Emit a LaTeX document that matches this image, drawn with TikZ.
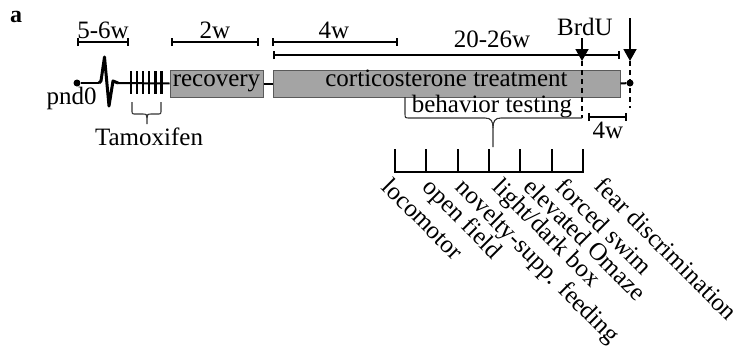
\documentclass[tikz,border=0pt]{standalone}
\usepackage{fontspec}
\setmainfont{Liberation Serif}
\usetikzlibrary{arrows.meta}
\definecolor{phasefill}{HTML}{A4A4A4}
\definecolor{phaseedge}{HTML}{5A5A5A}
\begin{document}
\begin{tikzpicture}[x=1pt,y=-1pt,
  txt/.style={font=\fontsize{25}{30}\selectfont, inner sep=0pt, anchor=base},
  spanbar/.style={line width=1.7pt, {Bar[width=8pt,line width=1.7pt]}-{Bar[width=8pt,line width=1.7pt]}},
  phase/.style={draw=phaseedge, line width=1pt, fill=phasefill, inner sep=0pt,
    minimum height=27pt, text height=11pt, text depth=5.5pt, font=\fontsize{25}{30}\selectfont},
  tline/.style={line width=2pt},
  spike/.style={line width=3pt, line join=round},
  tamtick/.style={line width=2.4pt},
  bracepath/.style={line width=1.1pt, draw=black!80},
  inject/.style={line width=1.8pt, -{Triangle[width=13pt,length=12pt]}},
  dashv/.style={line width=1.8pt, dash pattern=on 5pt off 4pt},
  dot/.style={circle, fill=black, inner sep=0pt, minimum size=7pt},
  combline/.style={line width=2.4pt},
  combtick/.style={line width=2pt},
  testlbl/.style={font=\fontsize{25}{30}\selectfont, rotate=-45, anchor=north west, inner sep=0pt}
]
\useasboundingbox (0,0) rectangle (741,354);

% panel letter
\node[font=\fontsize{24}{28}\selectfont\bfseries, inner sep=0pt, anchor=base west] (panel) at (10,22) {a};

% timeline
\node[dot] (p0) at (77,83) {};
\node[txt] (pnd) at (71.5,104) {pnd0};
\node[phase, minimum width=93pt] (rec) at (216.5,83.5) {recovery};
\node[phase, minimum width=347pt] (cort) at (446.5,83.5) {corticosterone treatment};
\node[dot] (pend) at (630,83) {};

\coordinate (e0) at (99,83);
\coordinate (e1) at (101,81);
\coordinate (e2) at (104.5,57);
\coordinate (e3) at (109,106);
\coordinate (e4) at (113,81);
\coordinate (e5) at (118,83);
\draw[tline] (p0) -- (e0);
\draw[spike] (e0) -- (e1) -- (e2) -- (e3) -- (e4) -- (e5);
\draw[tline] (e5) -- (rec.west);
\draw[tline] (rec.east) -- (cort.west);
\draw[tline] (cort.east) -- (pend);

% tamoxifen injections
\foreach \i/\x in {1/131,2/137,3/143,4/149,5/155.5,6/161.5} {
  \coordinate (tt\i) at (\x,71);
  \coordinate (tb\i) at (\x,94);
  \draw[tamtick] (tt\i) -- (tb\i);
}
\coordinate (tbl) at (132,102);
\coordinate (tbr) at (161,102);
\coordinate (tbtip) at (147,124);
\draw[bracepath] (tbl) -- (132,110) .. controls (132,114) .. (136,114) -- (143,114)
  .. controls (146.5,114) and (147,115) .. (147,118) -- (tbtip);
\draw[bracepath] (tbr) -- (161,110) .. controls (161,114) .. (157,114) -- (151,114)
  .. controls (147.5,114) and (147,115) .. (147,118);
\node[txt] (tam) at (149,145) {Tamoxifen};

% duration spans
\coordinate (s1a) at (77,42);  \coordinate (s1b) at (129,42);
\draw[spanbar] (s1a) -- (s1b);
\node[txt] (l1) at (103,38) {5-6w};
\coordinate (s2a) at (171,42); \coordinate (s2b) at (259,42);
\draw[spanbar] (s2a) -- (s2b);
\node[txt] (l2) at (215,38) {2w};
\coordinate (s3a) at (272,42); \coordinate (s3b) at (398,42);
\draw[spanbar] (s3a) -- (s3b);
\node[txt] (l3) at (334,38) {4w};
\coordinate (s4a) at (273,55); \coordinate (s4b) at (620,55);
\draw[spanbar] (s4a) -- (s4b);
\node[txt] (l4) at (492,47) {20-26w};
\coordinate (s5a) at (588,117); \coordinate (s5b) at (627,117);
\draw[spanbar] (s5a) -- (s5b);
\node[txt] (l5) at (608,138) {4w};

% BrdU and end arrows
\node[txt] (brdu) at (585,35) {BrdU};
\coordinate (a1s) at (582,38);  \coordinate (a1e) at (582,61);
\coordinate (a2s) at (630,18);  \coordinate (a2e) at (630,61);
\draw[inject] (a1s) -- (a1e);
\draw[inject] (a2s) -- (a2e);
\coordinate (d1e) at (582,118);
\coordinate (d2e) at (630,108);
\draw[dashv] (a1e) -- (d1e);
\draw[dashv] (a2e) -- (d2e);

% behavior testing brace
\node[txt] (beh) at (492,112) {behavior testing};
\coordinate (bl) at (405,97);
\coordinate (btip) at (493,147);
\draw[bracepath] (bl) -- (405,113) .. controls (405,118) .. (410,118) -- (485,118)
  .. controls (491,118) and (493,121) .. (493,128) -- (btip);
\draw[bracepath] (d1e) .. controls (582,118) .. (577,118) -- (501,118)
  .. controls (495,118) and (493,121) .. (493,128);

% test comb
\foreach \i/\x in {1/395,2/426.3,3/457.7,4/489,5/520.3,6/551.7,7/583} {
  \coordinate (ct\i) at (\x,149);
  \coordinate (cb\i) at (\x,172);
  \draw[combtick] (ct\i) -- (cb\i);
}
\draw[combline, line cap=rect] (cb1) -- (cb7);

% test labels
\node[testlbl] (t1) at (393,176) {locomotor};
\node[testlbl] (t2) at (434,176) {open field};
\node[testlbl] (t3) at (467,176) {novelty-supp. feeding};
\node[testlbl] (t4) at (504,176) {light/dark box};
\node[testlbl] (t5) at (535,176) {elevated Omaze};
\node[testlbl] (t6) at (567,176) {forced swim};
\node[testlbl] (t7) at (606,175) {fear discrimination};
\end{tikzpicture}
\end{document}
